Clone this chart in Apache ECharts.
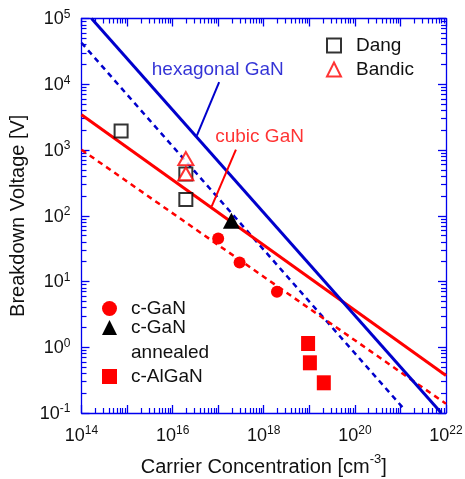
<!DOCTYPE html>
<html>
<head>
<meta charset="utf-8">
<script src="https://cdn.jsdelivr.net/npm/echarts@6/dist/echarts.min.js"></script>
<style>
html,body{margin:0;padding:0;background:#fff;}
#chart{width:465px;height:479px;}
</style>
</head>
<body>
<div id="chart"></div>
<script>
// ---------- Axis ranges & tick labels ----------
const X_MIN = 1e14, X_MAX = 1e22;
const Y_MIN = 1e-1, Y_MAX = 1e5;
const xDecadeExponents = [14, 15, 16, 17, 18, 19, 20, 21];
const yDecadeExponents = [-1, 0, 1, 2, 3, 4];
const xLabelExponents = [14, 16, 18, 20, 22];
const yLabelExponents = [-1, 0, 1, 2, 3, 4, 5];
const minorMultipliers = [2, 3, 4, 5, 6, 7, 8, 9];

// ---------- Model lines (end points) ----------
const hexSolidX = [1.66e14, 7.9e21];
const hexSolidY = [1e5, 0.1];
const hexDashedX = [1e14, 1.12e21];
const hexDashedY = [42700, 0.121];
const cubicSolidX = [1e14, 1e22];
const cubicSolidY = [3440, 0.372];
const cubicDashedX = [1e14, 1e22];
const cubicDashedY = [1010, 0.138];

// ---------- Measured points ----------
const dangX = [7.4e14, 1.95e16, 1.95e16];
const dangY = [1950, 430, 176];
const bandicX = [1.95e16, 1.95e16];
const bandicY = [738, 435];
const cGaNX = [1e17, 2.95e17, 1.95e18];
const cGaNY = [45, 19.4, 7.0];
const cGaNAnnealedX = [1.95e17];
const cGaNAnnealedY = [84];
const cAlGaNX = [9.4e18, 1.03e19, 2.08e19];
const cAlGaNY = [1.14, 0.58, 0.288];

// ---------- Annotations (data coordinates) ----------
const annotationTexts = ['hexagonal GaN', 'cubic GaN'];
const annotationX = [9.8e16, 8.1e17];
const annotationY = [16600, 1610];
const hexLeaderX = [1.05e17, 3.4e16];
const hexLeaderY = [10800, 1650];
const cubicLeaderX = [2.45e17, 7.2e16];
const cubicLeaderY = [1010, 139];

// ---------- Styles ----------
const BLUE = '#0000cc';
const AXIS_BLUE = '#0000ee';
const RED = '#ff0000';
const TEXT = '#111111';
const FONT = 'Liberation Sans, Arial, Helvetica, sans-serif';

const pairs = (xs, ys) => xs.map((x, i) => [x, ys[i]]);
// minor tick positions, expressed as exponents (for the decorative tick axes)
const minorExponents = (exps) => {
  const out = [];
  exps.forEach(e => minorMultipliers.forEach(m => out.push(e + Math.log10(m))));
  return out;
};

const labelRich = {
  b: { fontSize: 18, fontFamily: FONT, color: TEXT, lineHeight: 20, verticalAlign: 'bottom' },
  s: { fontSize: 12, fontFamily: FONT, color: TEXT, lineHeight: 8, verticalAlign: 'top' }
};
function expLabel(shown) {
  return function (v) {
    const e = Math.round(Math.log10(v));
    if (shown.indexOf(e) < 0) return '';
    return '{b|10}{s|' + (e < 0 ? '-' + (-e) : e) + '}';
  };
}

// main (data) axes: logarithmic, major ticks at each decade
function logAxis(dim, position) {
  const isX = dim === 'x';
  return {
    type: 'log', logBase: 10, position: position,
    min: isX ? X_MIN : Y_MIN, max: isX ? X_MAX : Y_MAX,
    splitLine: { show: false },
    minorTick: { show: false },
    axisLine: { show: true, onZero: false, lineStyle: { color: AXIS_BLUE, width: 1.3 } },
    axisTick: { show: true, inside: true, length: 8, lineStyle: { color: AXIS_BLUE, width: 1.3 } },
    axisLabel: { show: false },
    silent: true
  };
}
// decorative axes carrying only the minor ticks (2..9 of each decade)
function minorTickAxis(dim, position) {
  const isX = dim === 'x';
  const exps = isX ? xDecadeExponents : yDecadeExponents;
  return {
    type: 'value', position: position,
    min: Math.log10(isX ? X_MIN : Y_MIN), max: Math.log10(isX ? X_MAX : Y_MAX),
    splitLine: { show: false },
    axisLine: { show: false, onZero: false },
    axisTick: { show: true, inside: true, length: 5, customValues: minorExponents(exps),
      lineStyle: { color: AXIS_BLUE, width: 1.2 } },
    axisLabel: { show: false },
    silent: true
  };
}

const xMain = logAxis('x', 'bottom');
xMain.axisLabel = { show: true, margin: 12, formatter: expLabel(xLabelExponents), rich: labelRich };
xMain.name = '{a|Carrier Concentration [cm}{s|-3}{a|]}';
xMain.nameLocation = 'middle';
xMain.nameGap = 40;
xMain.nameTextStyle = {
  rich: {
    a: { fontSize: 20, fontFamily: FONT, color: TEXT, lineHeight: 24, verticalAlign: 'bottom' },
    s: { fontSize: 13, fontFamily: FONT, color: TEXT, lineHeight: 10, verticalAlign: 'top' }
  }
};

const yMain = logAxis('y', 'left');
yMain.axisLabel = { show: true, margin: 11, formatter: expLabel(yLabelExponents), rich: labelRich };
yMain.name = 'Breakdown Voltage [V]';
yMain.nameLocation = 'middle';
yMain.nameRotate = 90;
yMain.nameGap = 53;
yMain.nameTextStyle = { fontSize: 20, fontFamily: FONT, color: TEXT };

function lineSeries(name, xs, ys, color, width, dashed) {
  return {
    name: name, type: 'line', xAxisIndex: 0, yAxisIndex: 0,
    data: pairs(xs, ys), symbol: 'none', showSymbol: false, silent: true,
    lineStyle: { color: color, width: width, type: dashed ? [5.5, 4.5] : 'solid', cap: 'butt' },
    z: 3, animation: false
  };
}

function scatterSeries(name, xs, ys, symbol, size, color, extra) {
  return Object.assign({
    name: name, type: 'scatter', xAxisIndex: 0, yAxisIndex: 0,
    data: pairs(xs, ys), symbol: symbol, symbolSize: size,
    itemStyle: { color: color, opacity: 1 },
    z: 5, animation: false, silent: true
  }, extra || {});
}

const legendText = { fontSize: 19, fontFamily: FONT, color: TEXT, padding: [0, 0, 0, 10] };

const option = {
  animation: false,
  backgroundColor: '#ffffff',
  grid: { left: 81.5, right: 19, top: 18.5, bottom: 66, containLabel: false, outerBoundsMode: 'none' },
  xAxis: [xMain, minorTickAxis('x', 'bottom'), logAxis('x', 'top'), minorTickAxis('x', 'top')],
  yAxis: [yMain, minorTickAxis('y', 'left'), logAxis('y', 'right'), minorTickAxis('y', 'right')],
  legend: [
    {
      data: ['Dang', 'Bandic'], orient: 'vertical', left: 326, top: 36, padding: 0,
      itemWidth: 14, itemHeight: 14, itemGap: 5, selectedMode: false,
      textStyle: legendText
    },
    {
      data: ['c-GaN', 'c-GaN annealed'], orient: 'vertical', left: 102, top: 299, padding: 0,
      itemWidth: 15, itemHeight: 15, itemGap: 0, selectedMode: false,
      textStyle: Object.assign({}, legendText, { padding: [0, 0, 0, 9] }),
      formatter: function (n) { return n === 'c-GaN annealed' ? 'c-GaN' : n; }
    },
    {
      data: ['c-AlGaN'], orient: 'vertical', left: 102, top: 367, padding: 0,
      itemWidth: 15, itemHeight: 15, itemGap: 1, selectedMode: false,
      textStyle: Object.assign({}, legendText, { padding: [0, 0, 0, 9] })
    }
  ],
  graphic: [
    { type: 'text', x: 131, y: 353, silent: true,
      style: { text: 'annealed', fontSize: 19, fontFamily: FONT, fill: TEXT, verticalAlign: 'middle', align: 'left' } }
  ],
  series: [
    lineSeries('hex dashed', hexDashedX, hexDashedY, BLUE, 2.5, true),
    lineSeries('cubic dashed', cubicDashedX, cubicDashedY, RED, 2.5, true),
    lineSeries('cubic solid', cubicSolidX, cubicSolidY, RED, 3, false),
    lineSeries('hex solid', hexSolidX, hexSolidY, BLUE, 3, false),
    lineSeries('hex leader', hexLeaderX, hexLeaderY, BLUE, 2, false),
    lineSeries('cubic leader', cubicLeaderX, cubicLeaderY, RED, 2, false),
    {
      name: 'annotations', type: 'scatter', symbol: 'circle', symbolSize: 1,
      itemStyle: { color: 'transparent' }, silent: true, z: 6, animation: false,
      data: annotationTexts.map((t, i) => ({
        name: t, value: [annotationX[i], annotationY[i]],
        label: { show: true, position: 'inside', formatter: t, fontSize: 19, fontFamily: FONT,
          color: i === 0 ? BLUE : RED }
      }))
    },
    scatterSeries('Dang', dangX, dangY, 'emptyRect', 13, '#000000', { itemStyle: { color: '#000000', borderWidth: 1.2 } }),
    scatterSeries('Bandic', bandicX, bandicY, 'emptyTriangle', [15, 13], RED, { itemStyle: { color: RED, borderWidth: 1.2 } }),
    scatterSeries('c-GaN', cGaNX, cGaNY, 'circle', 12, RED),
    scatterSeries('c-GaN annealed', cGaNAnnealedX, cGaNAnnealedY, 'triangle', [17, 16], '#000000'),
    scatterSeries('c-AlGaN', cAlGaNX, cAlGaNY, 'rect', [14, 15], RED)
  ]
};

const chart = echarts.init(document.getElementById('chart'), null, { renderer: 'canvas' });
chart.setOption(option);
</script>
</body>
</html>
